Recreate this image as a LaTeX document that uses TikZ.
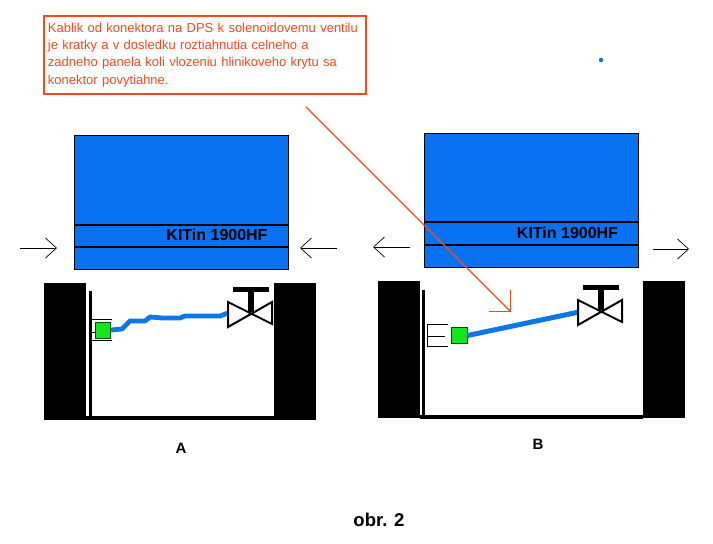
\documentclass[tikz,border=0pt]{standalone}
\usepackage{fontspec}
\setmainfont{Liberation Sans}
\usetikzlibrary{arrows.meta, positioning}
\definecolor{caseblue}{RGB}{8,114,240}
\definecolor{cableblue}{RGB}{12,120,232}
\definecolor{noteorange}{RGB}{248,72,30}
\definecolor{plugreen}{RGB}{20,230,30}
\tikzset{
    caselid/.style={draw=black, line width=1pt, fill=caseblue, minimum width=214pt, minimum height=133.5pt, inner sep=0pt},
    casewall/.style={fill=black, draw=none, minimum width=42pt, minimum height=137pt, inner sep=0pt},
    plug/.style={draw=black!70!green, line width=0.8pt, fill=plugreen, minimum width=15.5pt, minimum height=16pt, inner sep=0pt},
    cable/.style={cableblue, line width=4.8pt, line join=round},
    pusharrow/.style={-{Straight Barb[length=11pt,width=20pt]}, line width=0.7pt},
    lidtext/.style={font=\bfseries\fontsize{16}{18}\selectfont, inner sep=0pt},
    caption/.style={font=\bfseries\fontsize{15}{17}\selectfont, inner sep=0pt}
}

\begin{document}
\begin{tikzpicture}[x=1pt, y=-1pt]
    \useasboundingbox (0,0) rectangle (713,544);

    % Red note with its pointer
    \node[draw=noteorange, line width=1.8pt, text=noteorange, anchor=north west, minimum width=322pt, minimum height=78pt, inner sep=0pt, text width=314pt, align=left, font=\fontsize{13}{17.3}\selectfont] (note) at (43,15) {Kablik od konektora na DPS k solenoidovemu ventilu\\je kratky a v dosledku roztiahnutia celneho a\\zadneho panela koli vlozeniu hlinikoveho krytu sa\\konektor povytiahne.};
    \node[circle, fill=caseblue, minimum size=4.5pt, inner sep=0pt] (dot) at (601,60) {};

    % Variant A
    \node[caselid] (lidA) at (181,202.5) {};
    \draw[line width=2pt] (lidA.west |- 0,225) -- (lidA.east |- 0,225);
    \draw[line width=2pt] (lidA.west |- 0,247) -- (lidA.east |- 0,247);
    \node[lidtext] (nameA) at (217,235) {KITin 1900HF};
    \coordinate (pushAl) at (20,248);
    \coordinate (tipAl) at (57,248);
    \coordinate (pushAr) at (337,248);
    \coordinate (tipAr) at (300,248);
    \draw[pusharrow] (pushAl) -- (tipAl);
    \draw[pusharrow] (pushAr) -- (tipAr);

    \node[casewall] (wallA1) at (65,351.5) {};
    \node[casewall] (wallA2) at (295,351.5) {};
    \draw[line width=3.5pt] (86,418.2) -- (274,418.2);
    \draw[line width=2.8pt] (90.2,291) -- (90.2,418);
    % connector housing
    \draw[line width=1pt] (112,319) -- (91,319);
    \draw[line width=1pt] (112,340) -- (91,340);
    \draw[line width=1pt] (91,332) -- (95,332);
    \node[plug] (plugA) at (103,330) {};
    \coordinate (valveA) at (228,313);
    \draw[cable] (plugA.east) -- (122,329) -- (130,321) -- (145,321) -- (150,317) -- (163,318) -- (180,318) -- (185,316) -- (220,316) -- (valveA);
    % valve
    \draw[line width=2pt, fill=white] (228,302) -- (272,324) -- (272,302) -- (228,327) -- cycle;
    \draw[line width=6pt] (251,290) -- (251,312);
    \draw[line width=5pt] (233,289) -- (269,289);

    % Variant B
    \node[caselid] (lidB) at (531,200.5) {};
    \draw[line width=2pt] (lidB.west |- 0,222) -- (lidB.east |- 0,222);
    \draw[line width=2pt] (lidB.west |- 0,244.5) -- (lidB.east |- 0,244.5);
    \node[lidtext] (nameB) at (567.5,232.5) {KITin 1900HF};
    \coordinate (pushBl) at (410,247);
    \coordinate (tipBl) at (373,247);
    \coordinate (pushBr) at (653,249);
    \coordinate (tipBr) at (689,249);
    \draw[pusharrow] (pushBl) -- (tipBl);
    \draw[pusharrow] (pushBr) -- (tipBr);

    \node[casewall] (wallB1) at (399,349.5) {};
    \node[casewall] (wallB2) at (664,349.5) {};
    \draw[line width=3.5pt] (420,417) -- (643,417);
    \draw[line width=2.8pt] (423.5,290) -- (423.5,417);
    % connector housing
    \draw[line width=0.7pt] (448,324) -- (427,324) -- (427,346) -- (448,346);
    \draw[line width=0.7pt] (427,336) -- (445,336);
    \node[plug] (plugB) at (459.5,335.5) {};
    \coordinate (valveB) at (579,312);
    \draw[cableblue, line width=5pt] (plugB.east) -- (valveB);
    % valve
    \draw[line width=2pt, fill=white] (578,300) -- (622,322) -- (622,300) -- (578,325) -- cycle;
    \draw[line width=6pt] (601,289) -- (601,310);
    \draw[line width=5pt] (583,287.5) -- (619,287.5);

    % Pointer runs over everything
    \coordinate (pointA) at (306,107);
    \coordinate (pointB) at (511,312);
    \draw[noteorange, line width=1.2pt, -{Straight Barb[length=15pt,width=30pt]}] (pointA) -- (pointB);

    % Captions
    \node[caption] (capA) at (181,448) {A};
    \node[caption] (capB) at (538,444) {B};
    \node[font=\bfseries\fontsize{18.5}{20}\selectfont, inner sep=0pt] (capFig) at (379,520) {obr. 2};
\end{tikzpicture}
\end{document}
